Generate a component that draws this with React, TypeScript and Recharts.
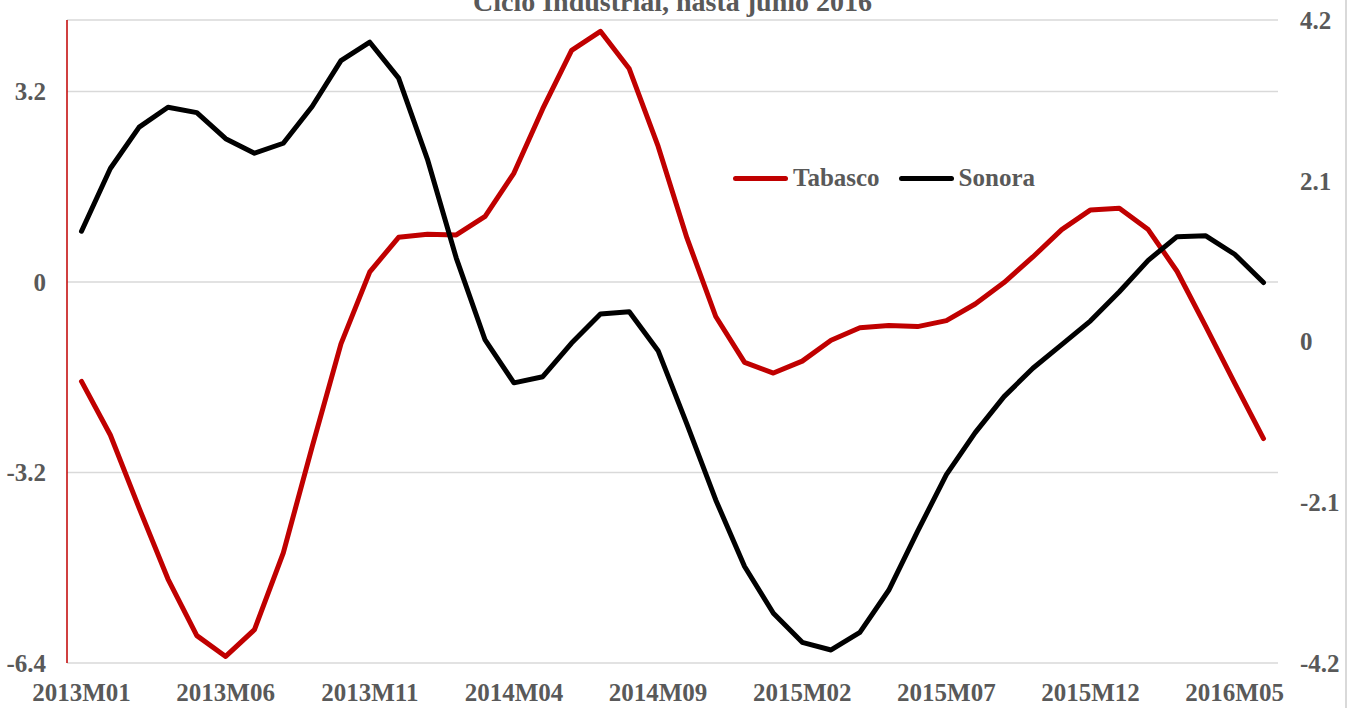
import React from "react";
import { LineChart, Line, XAxis, YAxis, CartesianGrid } from "recharts";

const months = [
  "2013M01","2013M02","2013M03","2013M04","2013M05","2013M06","2013M07","2013M08","2013M09","2013M10","2013M11","2013M12",
  "2014M01","2014M02","2014M03","2014M04","2014M05","2014M06","2014M07","2014M08","2014M09","2014M10","2014M11","2014M12",
  "2015M01","2015M02","2015M03","2015M04","2015M05","2015M06","2015M07","2015M08","2015M09","2015M10","2015M11","2015M12",
  "2016M01","2016M02","2016M03","2016M04","2016M05","2016M06",
];

const tabasco = [
  -1.67, -2.57, -3.8, -4.99, -5.94, -6.29, -5.84, -4.55, -2.77, -1.04, 0.17, 0.75,
  0.8, 0.79, 1.1, 1.83, 2.91, 3.89, 4.21, 3.58, 2.28, 0.74, -0.58, -1.35,
  -1.53, -1.33, -0.98, -0.77, -0.73, -0.75, -0.65, -0.37, -0.01, 0.42, 0.88, 1.21,
  1.24, 0.88, 0.18, -0.75, -1.7, -2.63,
];

const sonora = [
  1.44, 2.26, 2.8, 3.06, 2.99, 2.65, 2.46, 2.59, 3.07, 3.67, 3.91, 3.44,
  2.38, 1.09, 0.02, -0.54, -0.46, -0.02, 0.36, 0.39, -0.12, -1.08, -2.07, -2.94,
  -3.55, -3.93, -4.03, -3.8, -3.25, -2.48, -1.74, -1.19, -0.72, -0.35, -0.04, 0.27,
  0.65, 1.06, 1.37, 1.38, 1.14, 0.77,
];

const leftTicks = [-6.4, -3.2, 0, 3.2];
const rightTicks = [-4.2, -2.1, 0, 2.1, 4.2];
const xTicks = ["2013M01", "2013M06", "2013M11", "2014M04", "2014M09", "2015M02", "2015M07", "2015M12", "2016M05"];

const title = "Ciclo Industrial, hasta junio 2016";
const seriesNames = { tabasco: "Tabasco", sonora: "Sonora" };

const data = months.map((m, i) => ({ month: m, tabasco: tabasco[i], sonora: sonora[i] }));

const FONT = "'Liberation Serif', 'Times New Roman', serif";
const TEXT = "#595959";
const RED = "#C00000";

const tickStyle = { fontFamily: FONT, fontSize: 25, fontWeight: 700, fill: TEXT };

export default function App() {
  return (
    <div style={{ position: "absolute", left: 0, top: 0, width: 1347, height: 708, background: "#fff", overflow: "hidden" }}>
      <div
        style={{
          position: "absolute",
          left: 0,
          width: 1345,
          top: -12,
          textAlign: "center",
          fontFamily: FONT,
          fontWeight: 700,
          fontSize: 28,
          lineHeight: "28px",
          color: TEXT,
        }}
      >
        {title}
      </div>
      <div style={{ position: "absolute", right: 0, top: 0, width: 2, height: 708, background: "#d9d9d9" }} />
      <LineChart
        width={1347}
        height={708}
        data={data}
        margin={{ top: 20, right: 9, bottom: 0, left: 7 }}
      >
        <CartesianGrid yAxisId="left" vertical={false} stroke="#d9d9d9" strokeWidth={1.5} />
        <XAxis
          dataKey="month"
          ticks={xTicks}
          interval={0}
          height={45}
          padding={{ left: 14.5, right: 14.5 }}
          axisLine={false}
          tickLine={false}
          tickMargin={14}
          tick={tickStyle}
        />
        <YAxis
          yAxisId="left"
          orientation="left"
          width={60}
          domain={[-6.4, 4.4]}
          ticks={leftTicks}
          allowDataOverflow
          axisLine={{ stroke: RED, strokeWidth: 1.5 }}
          tickLine={false}
          tickMargin={15}
          tick={tickStyle}
        />
        <YAxis
          yAxisId="right"
          orientation="right"
          width={60}
          domain={[-4.2, 4.2]}
          ticks={rightTicks}
          allowDataOverflow
          axisLine={false}
          tickLine={false}
          tickMargin={16}
          tick={tickStyle}
        />
        <Line
          yAxisId="left"
          dataKey="tabasco"
          name={seriesNames.tabasco}
          stroke={RED}
          strokeWidth={5}
          strokeLinecap="round"
          strokeLinejoin="round"
          dot={false}
          activeDot={false}
          isAnimationActive={false}
        />
        <Line
          yAxisId="right"
          dataKey="sonora"
          name={seriesNames.sonora}
          stroke="#000"
          strokeWidth={5}
          strokeLinecap="round"
          strokeLinejoin="round"
          dot={false}
          activeDot={false}
          isAnimationActive={false}
        />
      </LineChart>
      <div
        style={{
          position: "absolute",
          left: 733,
          top: 164,
          display: "flex",
          alignItems: "center",
          fontFamily: FONT,
          fontWeight: 700,
          fontSize: 25,
          lineHeight: "28px",
          color: TEXT,
        }}
      >
        <span style={{ display: "inline-block", width: 55, height: 5, borderRadius: 3, background: RED, marginRight: 5 }} />
        <span style={{ marginRight: 19 }}>{seriesNames.tabasco}</span>
        <span style={{ display: "inline-block", width: 55, height: 5, borderRadius: 3, background: "#000", marginRight: 5 }} />
        <span>{seriesNames.sonora}</span>
      </div>
    </div>
  );
}
